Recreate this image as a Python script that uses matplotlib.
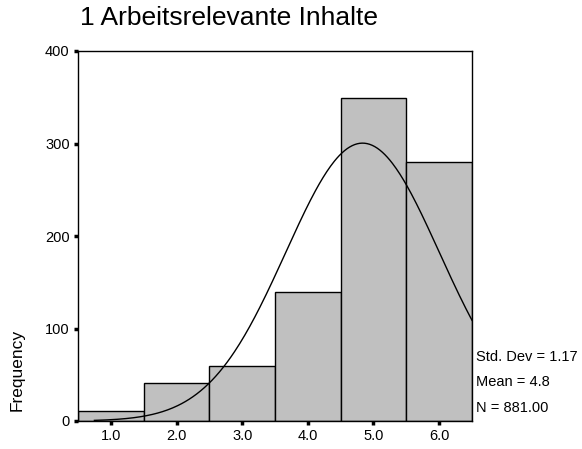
import numpy as np
import matplotlib
matplotlib.use("Agg")
import matplotlib.pyplot as plt

plt.rcParams['font.family'] = ['Liberation Sans', 'DejaVu Sans']

# data
categories = [1.0, 2.0, 3.0, 4.0, 5.0, 6.0]
counts = [11, 41, 60, 140, 349, 280]
mean, sd, n = 4.8, 1.17, 881
title = "1 Arbeitsrelevante Inhalte"
yticks = [0, 100, 200, 300, 400]

fig = plt.figure(figsize=(5.82, 4.49), dpi=100)
ax = fig.add_axes([78 / 582, 1 - 421 / 449, (472 - 78) / 582, (421 - 51) / 449])

ax.bar(categories, counts, width=1.0, color="#c0c0c0", edgecolor="black", linewidth=1.0)

# normal curve, scaled to counts with bin width 1 (unrounded mean from the counts)
x = np.array(categories)
c = np.array(counts)
m = (x * c).sum() / c.sum()
xs = np.linspace(0.75, 6.5, 300)
ys = n / (sd * np.sqrt(2 * np.pi)) * np.exp(-0.5 * ((xs - m) / sd) ** 2)
ax.plot(xs, ys, color="black", linewidth=1.0)

ax.set_xlim(0.5, 6.5)
ax.set_ylim(0, 400)
ax.set_xticks(categories)
ax.set_xticklabels(["%.1f" % v for v in categories], fontsize=10.5)
ax.set_yticks(yticks)
ax.set_yticklabels([str(t) for t in yticks], fontsize=10.5)
ax.tick_params(direction="out", length=3, width=2.5, pad=3)
for s in ax.spines.values():
    s.set_linewidth(1.0)

fig.text(80 / 582, 1 - 18 / 449, title, fontsize=19, va="center", ha="left")
fig.text(17 / 582, 1 - 370 / 449, "Frequency", fontsize=12.5, rotation=90, va="center", ha="center")

stats = ["Std. Dev = %.2f" % sd, "Mean = %.1f" % mean, "N = %.2f" % n]
for i, s in enumerate(stats):
    fig.text(476 / 582, 1 - (357 + 25.5 * i) / 449, s, fontsize=10.5, va="center", ha="left")

fig.savefig("out.png", dpi=100)
